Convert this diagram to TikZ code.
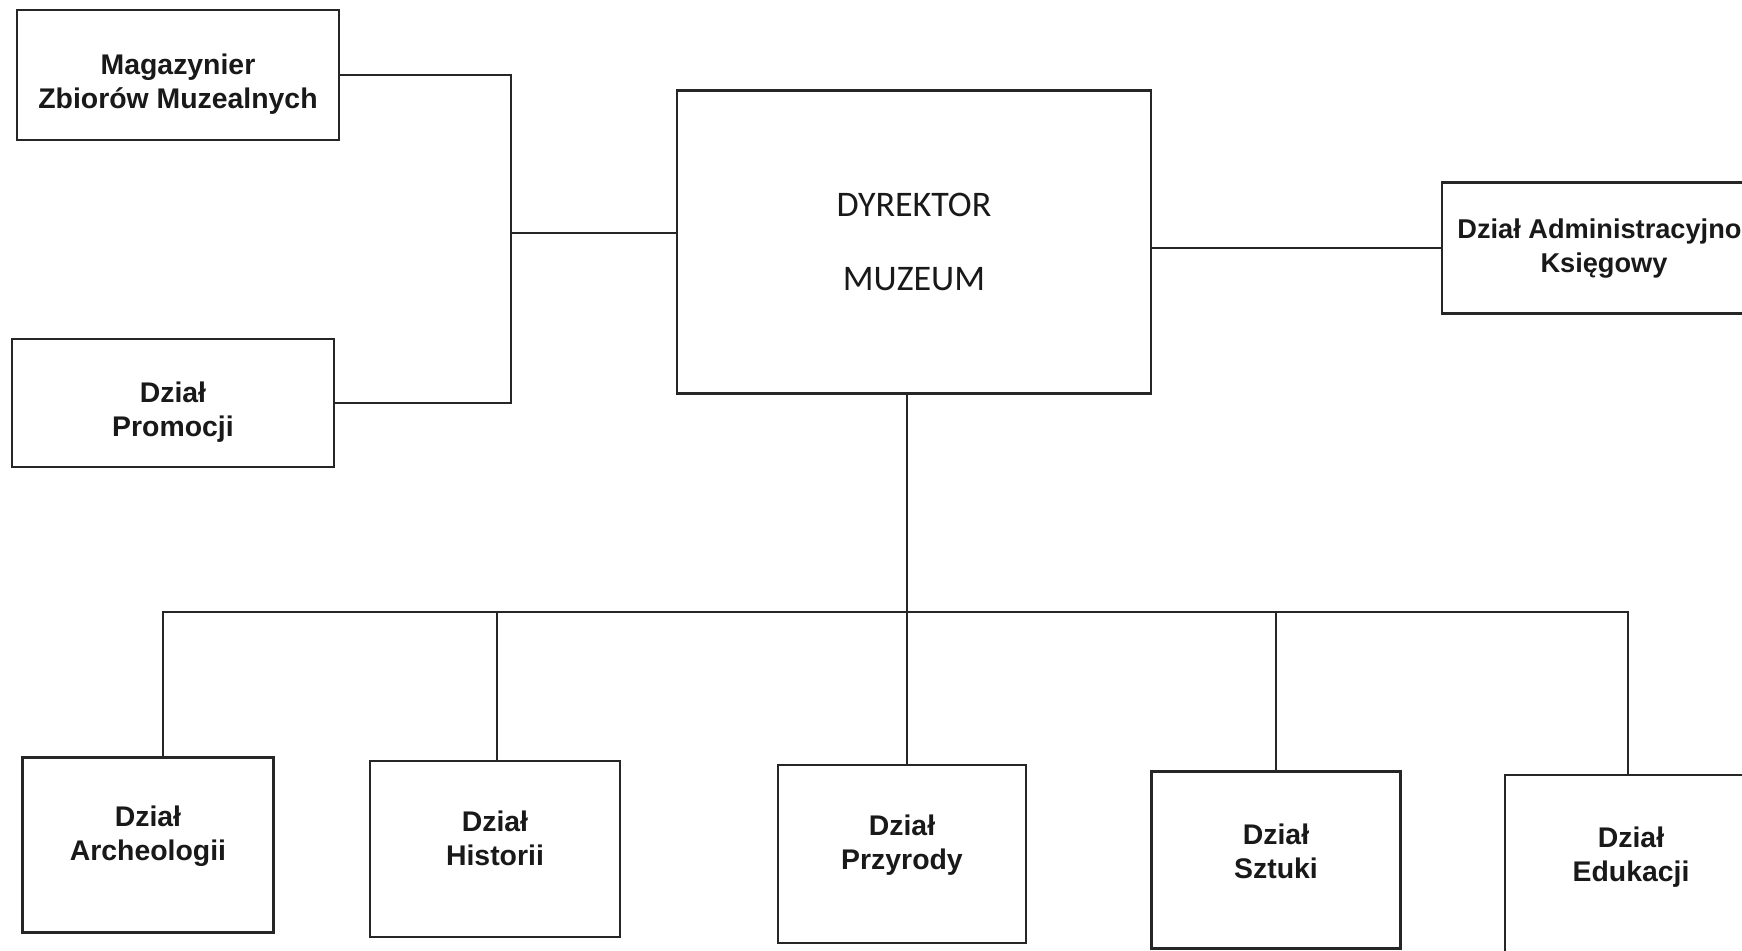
\documentclass[tikz,border=0pt]{standalone}
\usepackage{fontspec}
\setmainfont{Liberation Sans}
\newfontfamily\dirfont{Carlito}
\begin{document}
\begin{tikzpicture}[x=0.5pt,y=-0.5pt,
  unit/.style={draw=black!85, line width=1.2pt, fill=white, rectangle, inner sep=0pt},
  txt/.style={align=center, inner sep=0pt, text=black!90,
    font=\bfseries\fontsize{14.2}{17}\selectfont},
  link/.style={draw=black!85, line width=1pt}]
\useasboundingbox (0,0) rectangle (1742,951);
\clip (0,0) rectangle (1742,951);
\fill[white] (0,0) rectangle (1742,951);
% top left
\node[unit, minimum width=161pt, minimum height=65pt,
  label={[txt, yshift=-4.5pt]center:Magazynier\\Zbiorów Muzealnych}] (mag) at (178,75) {};
\node[unit, minimum width=161pt, minimum height=64pt,
  label={[txt, yshift=-4.5pt]center:Dział\\Promocji}] (prom) at (173,403) {};
% director
\node[unit, minimum width=237pt, minimum height=151.5pt, align=center, text=black!90,
  font=\dirfont\fontsize{18}{37}\selectfont] (dyr) at (914,242) {DYREKTOR\\MUZEUM};
% right
\node[unit, minimum width=162pt, minimum height=65.5pt,
  label={[txt, yshift=-0.5pt, font=\bfseries\fontsize{13.6}{17}\selectfont]center:Dział Administracyjno-\\Księgowy}] (adm) at (1604,248) {};
% bottom
\node[unit, minimum width=125.5pt, minimum height=87.5pt,
  label={[txt, yshift=4.5pt]center:Dział\\Archeologii}] (arch) at (148,845) {};
\node[unit, minimum width=125pt, minimum height=88pt,
  label={[txt, yshift=5.5pt]center:Dział\\Historii}] (hist) at (495,849) {};
\node[unit, minimum width=124pt, minimum height=89pt,
  label={[txt, yshift=4.5pt]center:Dział\\Przyrody}] (przy) at (902,854) {};
\node[unit, minimum width=124.5pt, minimum height=88.5pt,
  label={[txt, yshift=4.5pt]center:Dział\\Sztuki}] (szt) at (1276,860) {};
\node[unit, minimum width=126pt, minimum height=90pt,
  label={[txt, yshift=4pt]center:Dział\\Edukacji}] (edu) at (1631,865) {};
% connectors
\coordinate (lj) at (511,233);
\coordinate (bus) at (907,612);
\draw[link] (mag.east) -| (lj) |- (prom.east);
\draw[link] (lj) -- (lj -| dyr.west);
\draw[link] (adm.west) -- (adm.west -| dyr.east);
\draw[link] (bus |- dyr.south) -- (bus |- przy.north);
\draw[link] ([xshift=7.5pt]arch.north) |- (bus) -| ([xshift=-1.5pt]edu.north);
\draw[link] ([xshift=1pt]hist.north) -- ([xshift=1pt]hist.north |- bus);
\draw[link] (szt.north) -- (szt.north |- bus);
\end{tikzpicture}
\end{document}
